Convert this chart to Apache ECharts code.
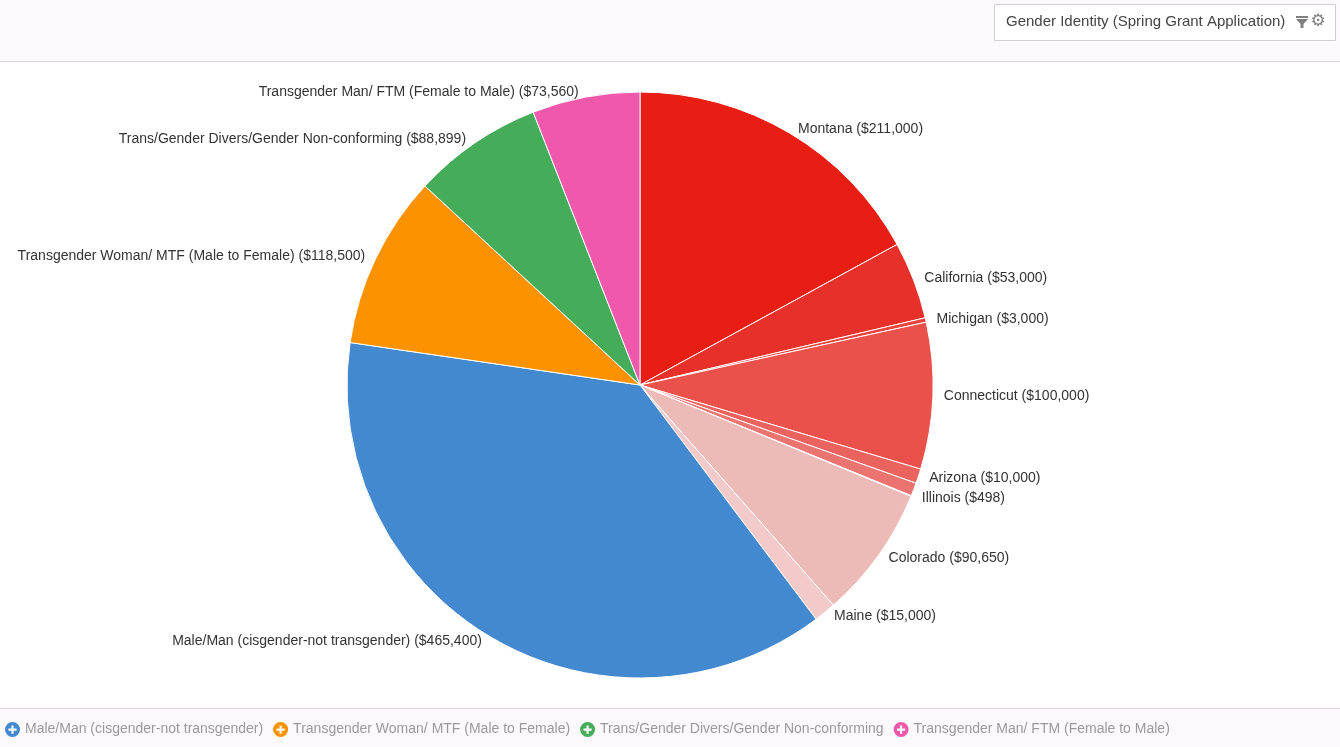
<!DOCTYPE html>
<html>
<head>
<meta charset="utf-8">
<script src="https://cdn.jsdelivr.net/npm/echarts@6/dist/echarts.min.js"></script>
<style>
  html, body { margin: 0; padding: 0; background: #fff; }
  #chart { width: 1340px; height: 747px; }
</style>
</head>
<body>
<div id="chart"></div>
<script>
// slices, clockwise from 12 o'clock
const sliceNames = [
  'Montana', 'California', 'Michigan', 'Connecticut', 'Arizona', 'Other',
  'Illinois', 'Colorado', 'Maine',
  'Male/Man (cisgender-not transgender)',
  'Transgender Woman/ MTF (Male to Female)',
  'Trans/Gender Divers/Gender Non-conforming',
  'Transgender Man/ FTM (Female to Male)'
]
const sliceValues = [211000, 53000, 3000, 100000, 10000, 9000, 498, 90650, 15000,
  465400, 118500, 88899, 73560]
const sliceColors = ['#e81e14', '#e8302a', '#e9433d', '#ea514b', '#eb635e', '#ec7470',
  '#f09d99', '#ecbab7', '#f2cac9', '#4389d0', '#fd9200', '#45ad5a', '#ef58ab']
const hiddenLabels = ['Other']
const legendNames = sliceNames.slice(9)
const chartTitle = 'Gender Identity (Spring Grant Application)'

const plusIcon = 'path://M10,0A10,10 0 1,1 10,20A10,10 0 1,1 10,0Z' +
  'M8.5,4.5L8.5,8.5L4.5,8.5L4.5,11.5L8.5,11.5L8.5,15.5L11.5,15.5L11.5,11.5L15.5,11.5L15.5,8.5L11.5,8.5L11.5,4.5Z'

const chart = echarts.init(document.getElementById('chart'))

const pieData = sliceNames.map((name, i) => ({
  name,
  value: sliceValues[i],
  itemStyle: { color: sliceColors[i] },
  label: { show: hiddenLabels.indexOf(name) < 0 }
}))

chart.setOption({
  animation: false,
  backgroundColor: '#fff',
  textStyle: { fontFamily: 'Liberation Sans, Arial, sans-serif' },
  title: {
    text: chartTitle,
    left: 1006,
    top: 14,
    padding: 0,
    textStyle: { fontSize: 15, fontWeight: 'normal', color: '#444' }
  },
  graphic: [
    { type: 'rect', z: -10, shape: { x: 0, y: 0, width: 1340, height: 61 }, style: { fill: '#fbf9fc' } },
    { type: 'line', z: -9, shape: { x1: 0, y1: 61.5, x2: 1340, y2: 61.5 }, style: { stroke: '#d9d7da', lineWidth: 1 } },
    { type: 'rect', z: -8, shape: { x: 994.5, y: 4.5, width: 341, height: 36 }, style: { fill: '#fff', stroke: '#cfcfcf', lineWidth: 1 } },
    { type: 'rect', z: -10, shape: { x: 0, y: 708, width: 1340, height: 39 }, style: { fill: '#fbf9fc' } },
    { type: 'line', z: -9, shape: { x1: 0, y1: 708.5, x2: 1340, y2: 708.5 }, style: { stroke: '#d9d7da', lineWidth: 1 } },
    // filter icon
    { type: 'rect', shape: { x: 1296, y: 16, width: 12, height: 2 }, style: { fill: '#808080' } },
    { type: 'polygon', shape: { points: [[1296, 19], [1308, 19], [1303.5, 24], [1303.5, 28], [1300.5, 28], [1300.5, 24]] }, style: { fill: '#808080' } },
    // gear icon
    { type: 'text', style: { x: 1318, y: 22, text: '\u2699', fontSize: 17, fontFamily: 'DejaVu Sans', fill: '#808080', align: 'center', verticalAlign: 'middle' } }
  ],
  legend: {
    data: legendNames,
    left: 5,
    top: 722,
    icon: plusIcon,
    itemWidth: 15,
    itemHeight: 15,
    itemGap: 10,
    padding: 0,
    itemStyle: { borderWidth: 0 },
    textStyle: { fontSize: 14, color: '#9a9a9a' }
  },
  series: [{
    type: 'pie',
    center: [640, 385],
    radius: [0, 293],
    startAngle: 90,
    clockwise: true,
    avoidLabelOverlap: true,
    minShowLabelAngle: 0,
    itemStyle: { borderColor: '#fff', borderWidth: 1 },
    label: {
      position: 'outside',
      fontSize: 14,
      color: '#333',
      formatter: (p) => p.name + ' ($' + p.value.toLocaleString('en-US') + ')'
    },
    labelLine: { show: false, length: 5, length2: 1 },
    emphasis: { scale: false },
    data: pieData
  }]
})
</script>
</body>
</html>
